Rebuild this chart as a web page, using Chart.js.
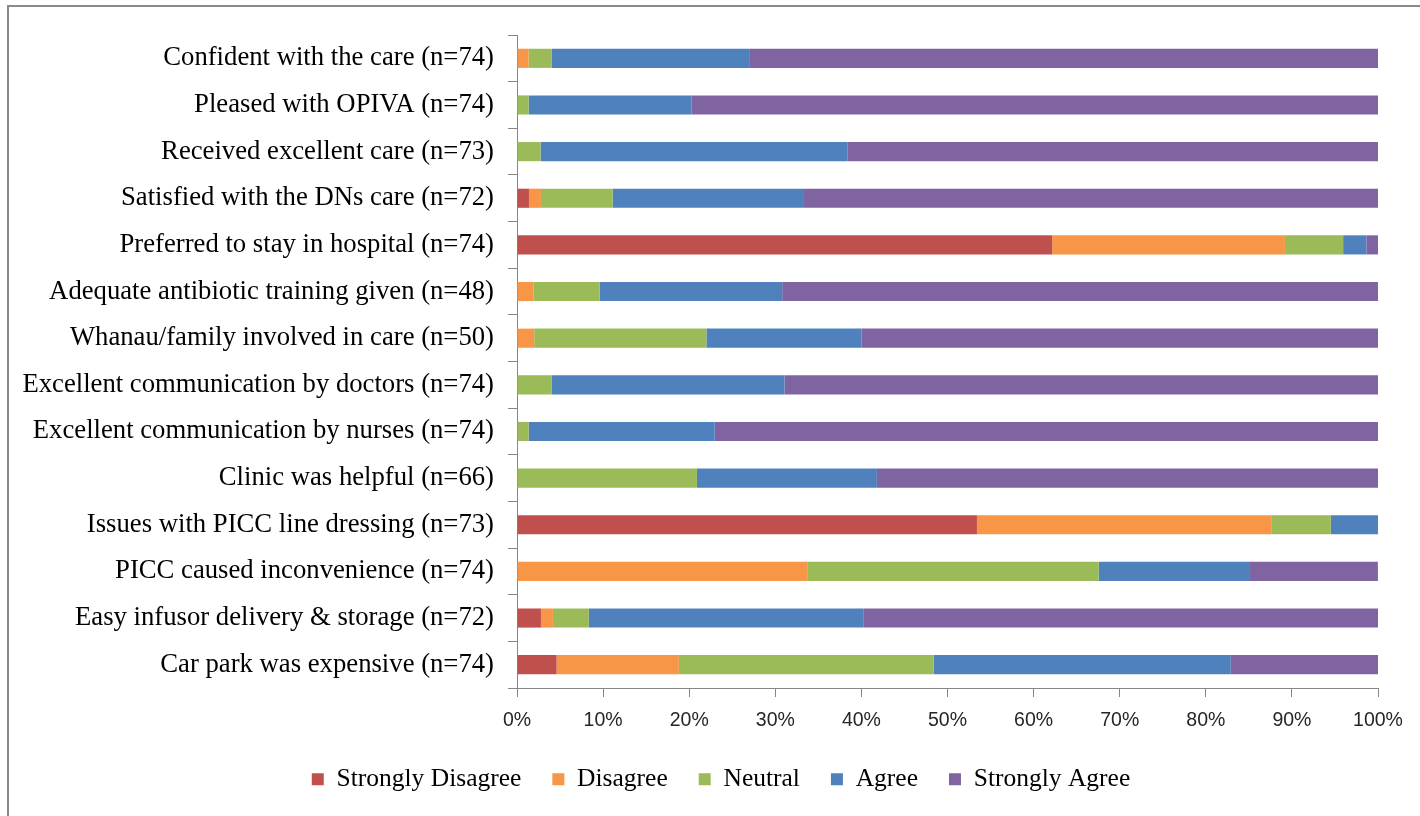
<!DOCTYPE html>
<html>
<head>
<meta charset="utf-8">
<script src="https://cdn.jsdelivr.net/npm/chart.js@4"></script>
<style>
  html, body { margin: 0; padding: 0; background: #fff; overflow: hidden; }
  #wrap { position: relative; width: 1420px; height: 816px; }
  #frame { position: absolute; left: 7px; top: 5px; right: -10px; bottom: -10px;
           border-left: 2px solid #8a8a8a; border-top: 2px solid #8a8a8a; pointer-events: none; }
</style>
</head>
<body>
<div id="wrap">
  <canvas id="myChart" width="1420" height="816"></canvas>
  <div id="frame"></div>
</div>
<script>
const categories = [
    'Confident with the care (n=74)',
    'Pleased with OPIVA (n=74)',
    'Received excellent care (n=73)',
    'Satisfied with the DNs care (n=72)',
    'Preferred to stay in hospital (n=74)',
    'Adequate antibiotic training given (n=48)',
    'Whanau/family involved in care (n=50)',
    'Excellent communication by doctors (n=74)',
    'Excellent communication by nurses (n=74)',
    'Clinic was helpful (n=66)',
    'Issues with PICC line dressing (n=73)',
    'PICC caused inconvenience (n=74)',
    'Easy infusor delivery & storage (n=72)',
    'Car park was expensive (n=74)'
];

// percent of respondents, same order as categories
const stronglyDisagree = [0, 0, 0, 1.39, 62.16, 0, 0, 0, 0, 0, 53.42, 0, 2.78, 4.6];
const disagree         = [1.35, 0, 0, 1.39, 27.03, 1.9, 2, 0, 0, 0, 34.25, 33.78, 1.39, 14.2];
const neutral          = [2.7, 1.35, 2.74, 8.33, 6.76, 7.7, 20, 4.05, 1.35, 20.9, 6.85, 33.78, 4.17, 29.6];
const agree            = [23.0, 18.9, 35.62, 22.22, 2.7, 21.2, 18, 27.03, 21.62, 20.9, 5.48, 17.57, 31.94, 34.5];
const stronglyAgree    = [72.95, 79.75, 61.64, 66.67, 1.35, 69.2, 60, 68.92, 77.03, 58.2, 0, 14.86, 59.72, 17.1];

const xTicks = [0, 10, 20, 30, 40, 50, 60, 70, 80, 90, 100];

const axisGrey = '#868686';
const serif = "'Liberation Serif', 'Times New Roman', serif";

// legend in the original sits a bit right of the page centre
const legendShift = {
    id: 'legendShift',
    afterLayout(chart) {
        chart.legend.left += 32;
        chart.legend.right += 32;
    }
};

const ctx = document.getElementById('myChart');
const dataPlot = new Chart(ctx, {
    type: 'bar',
    data: {
        labels: categories,
        datasets: [
            { label: 'Strongly Disagree', data: stronglyDisagree, backgroundColor: '#C0504D' },
            { label: 'Disagree', data: disagree, backgroundColor: '#F79646' },
            { label: 'Neutral', data: neutral, backgroundColor: '#9BBB59' },
            { label: 'Agree', data: agree, backgroundColor: '#4F81BD' },
            { label: 'Strongly Agree', data: stronglyAgree, backgroundColor: '#8064A2' }
        ]
    },
    plugins: [legendShift],
    options: {
        indexAxis: 'y',
        responsive: false,
        animation: false,
        barPercentage: 0.41,
        categoryPercentage: 1,
        layout: { padding: { left: 0, right: 42, top: 35, bottom: 14 } },
        plugins: {
            tooltip: { enabled: false },
            legend: {
                position: 'bottom',
                labels: {
                    boxWidth: 12,
                    boxHeight: 12,
                    padding: 31,
                    color: '#000',
                    font: { family: serif, size: 25.5 }
                }
            }
        },
        scales: {
            x: {
                stacked: true,
                min: 0,
                max: 100,
                afterBuildTicks: (scale) => { scale.ticks = xTicks.map(v => ({ value: v })); },
                afterFit: (scale) => { scale.height = 47.5; },
                border: { color: axisGrey, width: 1 },
                grid: { drawOnChartArea: false, drawTicks: true, tickLength: 9, color: axisGrey },
                ticks: {
                    padding: 12,
                    color: '#262626',
                    font: { family: "'Liberation Sans', sans-serif", size: 19.5 },
                    maxRotation: 0,
                    callback: (v) => v + '%'
                }
            },
            y: {
                stacked: true,
                afterFit: (scale) => { scale.width = 517; },
                border: { color: axisGrey, width: 1 },
                grid: { offset: true, drawOnChartArea: false, drawTicks: true, tickLength: 9, color: axisGrey },
                ticks: {
                    padding: 14,
                    autoSkip: false,
                    color: '#000',
                    font: { family: serif, size: 26.7 }
                }
            }
        }
    }
});
</script>
</body>
</html>
